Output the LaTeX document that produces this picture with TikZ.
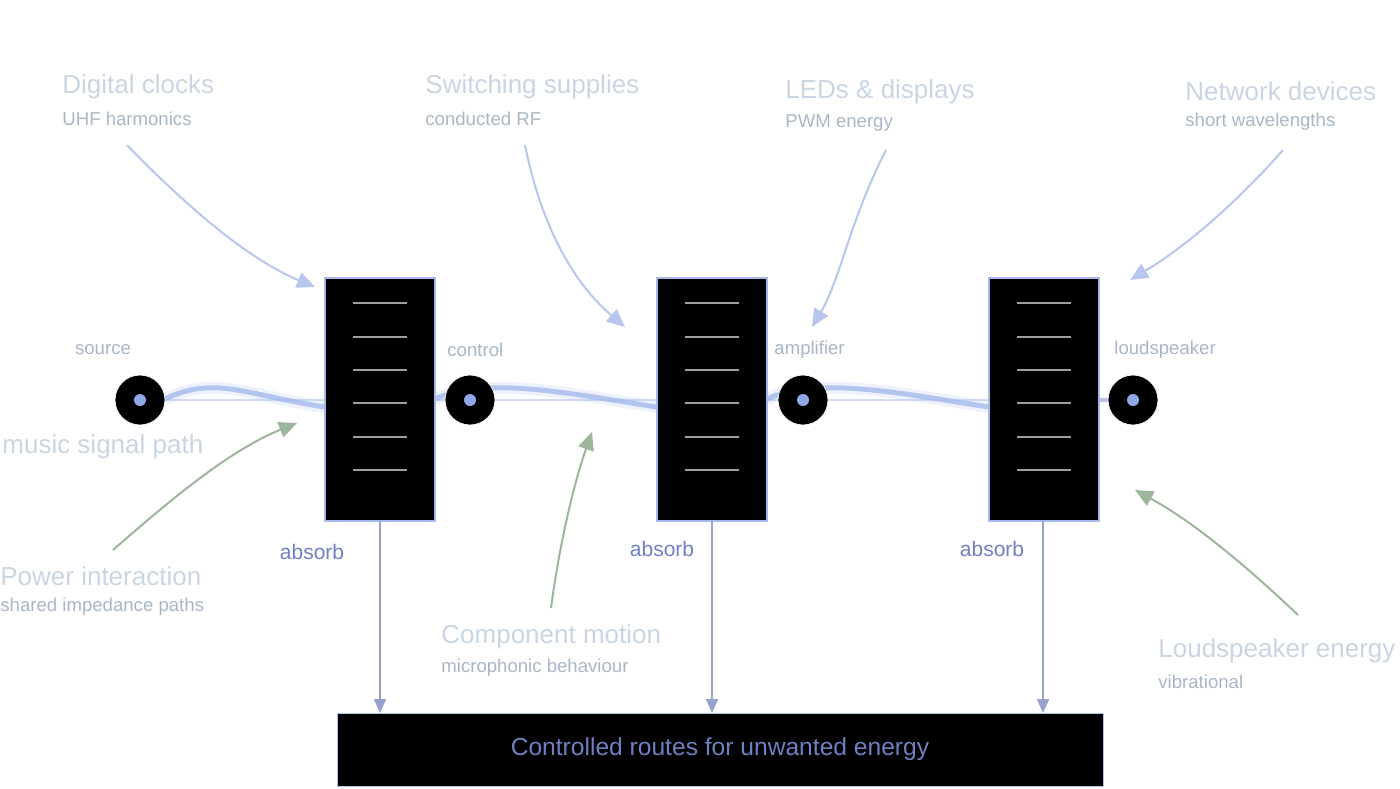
\documentclass[tikz,border=0pt]{standalone}
\usepackage{fontspec}
\setmainfont{Liberation Sans}
\usetikzlibrary{arrows.meta}
\definecolor{ttl}{HTML}{C9D5E2}
\definecolor{sub}{HTML}{A9B6C6}
\definecolor{blu}{HTML}{B8C6EE}
\definecolor{grn}{HTML}{9DB59A}
\definecolor{abs}{HTML}{97A3CC}
\definecolor{dot}{HTML}{8FA8E8}
\definecolor{txt}{HTML}{6F80C2}
\begin{document}
\begin{tikzpicture}[x=0.5pt,y=-0.5pt,
  stage/.style={draw=dot!80,line width=1.2pt,fill=black},
  port/.style={circle,fill=black,draw=white!90!dot,minimum size=25pt,inner sep=0pt},
  ttlx/.style={text=ttl,font=\fontsize{13}{15}\selectfont,anchor=west,inner sep=0pt},
  subx/.style={text=sub,font=\fontsize{9.3}{11}\selectfont,anchor=west,inner sep=0pt},
  lbl/.style={text=sub,font=\fontsize{9.3}{11}\selectfont,inner sep=0pt},
  barr/.style={draw=blu,line width=1pt,-{Triangle[length=9pt,width=8pt]}},
  garr/.style={draw=grn,line width=1pt,-{Triangle[length=9pt,width=8pt]}},
  aarr/.style={draw=abs,line width=1pt,-{Triangle[length=7pt,width=6pt]}},
  tick/.style={draw=gray!75,line width=1pt}]
\useasboundingbox (0,0) rectangle (1400,788);
% signal path
\draw[blu!60,line width=1pt] (165,400) -- (1110,400);
\foreach \a/\b in {165/325,435/657,767/989}{
  \draw[dot,opacity=0.15,line width=6pt] (\a,399) .. controls (\a+50,375) and (\b-80,395) .. (\b,407);
  \draw[dot!80,line width=2.5pt,opacity=0.8] (\a,399) .. controls (\a+50,375) and (\b-80,395) .. (\b,407);}
\draw[blu,line width=2pt] (1099,400) -- (1110,400);
% stages
\foreach \n/\x in {s1/325,s2/657,s3/989}{
  \draw[stage] (\x,278) rectangle (\x+110,521);
  \coordinate (\n) at (\x+55,521);
  \foreach \y in {303,337,370,403,437,470} \draw[tick] (\x+28,\y) -- (\x+82,\y);}
% ports
\foreach \n/\x/\t in {p1/140/source,p2/470/control,p3/803/amplifier,p4/1133/loudspeaker}{
  \node[port] (\n) at (\x,400) {};
  \fill[dot] (\n) circle (3pt);}
\node[lbl] at (103,350) {source};
\node[lbl,anchor=west] at (447,350) {control};
\node[lbl,anchor=west] at (774,350) {amplifier};
\node[lbl,anchor=west] at (1114,350) {loudspeaker};
\node[ttlx] at (2,447) {music signal path};
% bottom
\node[draw=dot!70,fill=black,minimum width=383pt,minimum height=36.5pt,inner sep=0pt,text=txt,font=\fontsize{12.3}{14}\selectfont] (bot) at (720,749.5) {Controlled routes for unwanted energy};
\coordinate (b1) at (380,713);\coordinate (b2) at (712,713);\coordinate (b3) at (1043,713);
\coordinate (a1) at (380,521);\coordinate (a2) at (712,521);\coordinate (a3) at (1043,521);
\foreach \i in {1,2,3} \draw[aarr] (a\i) -- (b\i);
\foreach \x/\y in {312/552,662/549,992/549} \node[text=txt,font=\fontsize{10.5}{12}\selectfont] at (\x,\y) {absorb};
% source labels
\node[ttlx] at (62,87) {Digital clocks};\node[subx] at (62,119) {UHF harmonics};
\node[ttlx] at (425,87) {Switching supplies};\node[subx] at (425,119) {conducted RF};
\node[ttlx] at (785,92) {LEDs \& displays};\node[subx] at (785,123) {PWM energy};
\node[ttlx] at (1185,91) {Network devices};\node[subx] at (1185,122) {short wavelengths};
\node[ttlx] at (0,576) {Power interaction};\node[subx] at (0,607) {shared impedance paths};
\node[ttlx] at (441,637) {Component motion};\node[subx] at (441,668) {microphonic behaviour};
\node[ttlx] at (1158,651) {Loudspeaker energy};\node[subx] at (1158,682) {vibrational};
\coordinate (c1) at (127,145);\coordinate (d1) at (315,287);
\coordinate (c2) at (525,145);\coordinate (d2) at (625,327);
\coordinate (c3) at (886,150);\coordinate (d3) at (812,327);
\coordinate (c4) at (1283,150);\coordinate (d4) at (1130,280);
\draw[barr] (c1) .. controls (190,210) and (250,260) .. (d1);
\draw[barr] (c2) .. controls (540,220) and (570,280) .. (d2);
\draw[barr] (c3) .. controls (850,220) and (840,280) .. (d3);
\draw[barr] (c4) .. controls (1230,210) and (1180,250) .. (d4);
\coordinate (g1) at (113,550);\coordinate (h1) at (297,423);
\coordinate (g2) at (551,608);\coordinate (h2) at (592,432);
\coordinate (g3) at (1298,615);\coordinate (h3) at (1135,490);
\draw[garr] (g1) .. controls (170,500) and (230,450) .. (h1);
\draw[garr] (g2) .. controls (560,540) and (575,480) .. (h2);
\draw[garr] (g3) .. controls (1240,560) and (1190,520) .. (h3);
\end{tikzpicture}
\end{document}
